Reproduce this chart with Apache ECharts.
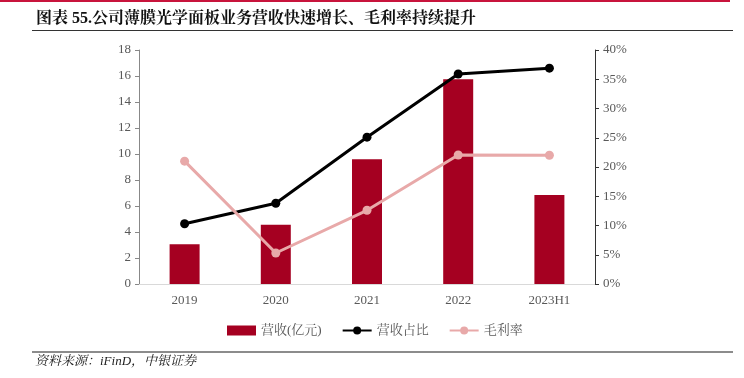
<!DOCTYPE html>
<html><head><meta charset="utf-8">
<script src="https://cdn.jsdelivr.net/npm/echarts@6/dist/echarts.min.js"></script>
<style>html,body{margin:0;padding:0;background:#fff}#c{width:744px;height:378px}</style>
</head><body><div id="c"></div>
<script>
const categories = ['2019','2020','2021','2022','2023H1'];
const revenue = [3.05, 4.55, 9.6, 15.75, 6.85];
const revenueShare = [10.3, 13.8, 25.1, 35.9, 36.9];
const grossMargin = [21.0, 5.3, 12.6, 22.05, 22.0];
const leftTicks = [0, 18, 2];
const rightTicks = [0, 40, 5];

const serif = '"Liberation Serif","Times New Roman","Noto Serif CJK SC","Noto Sans CJK SC",serif';
const chart = echarts.init(document.getElementById('c'));
chart.setOption({
  animation: false,
  title: {
    text: '图表 55.公司薄膜光学面板业务营收快速增长、毛利率持续提升',
    left: 31, top: 6,
    textStyle: { fontFamily: serif, fontSize: 16, fontWeight: 'bold', color: '#111' }
  },
  graphic: [
    { type: 'line', shape: { x1: 0, y1: 1, x2: 730, y2: 1 }, style: { stroke: '#c8143c', lineWidth: 2 } },
    { type: 'line', shape: { x1: 32, y1: 30.5, x2: 733, y2: 30.5 }, style: { stroke: '#333', lineWidth: 1.2 } },
    { type: 'line', shape: { x1: 32, y1: 352, x2: 733, y2: 352 }, style: { stroke: '#666', lineWidth: 1.5 } },
    { type: 'text', left: 35, top: 355, style: { text: '资料来源：iFinD，中银证券', font: 'italic 13px ' + serif, fill: '#222' } }
  ],
  legend: {
    left: 222, top: 319,
    itemWidth: 29, itemHeight: 10, itemGap: 20,
    textStyle: { fontFamily: serif, fontSize: 13, color: '#595959' },
    data: [
      { name: '营收(亿元)', icon: 'rect' },
      { name: '营收占比' },
      { name: '毛利率' }
    ]
  },
  grid: { left: 139, right: 149, top: 50, bottom: 94 },
  xAxis: {
    type: 'category', data: categories,
    axisLine: { lineStyle: { color: '#d9d9d9', width: 1 } },
    axisTick: { show: false },
    axisLabel: { fontFamily: serif, fontSize: 13, color: '#595959', margin: 10 }
  },
  yAxis: [
    {
      type: 'value', min: leftTicks[0], max: leftTicks[1], interval: leftTicks[2],
      axisLine: { show: true, lineStyle: { color: '#888' } },
      axisTick: { show: true, length: 4, lineStyle: { color: '#888' } },
      splitLine: { show: false },
      axisLabel: { fontFamily: serif, fontSize: 13, color: '#595959', margin: 8 }
    },
    {
      type: 'value', min: rightTicks[0], max: rightTicks[1], interval: rightTicks[2],
      position: 'right',
      axisLine: { show: true, lineStyle: { color: '#333' } },
      axisTick: { show: true, length: 4, lineStyle: { color: '#333' } },
      splitLine: { show: false },
      axisLabel: { fontFamily: serif, fontSize: 13, color: '#595959', margin: 8, formatter: '{value}%' }
    }
  ],
  series: [
    { name: '营收(亿元)', type: 'bar', data: revenue, barWidth: 30, itemStyle: { color: '#a50021' } },
    { name: '营收占比', type: 'line', yAxisIndex: 1, data: revenueShare, symbol: 'circle', symbolSize: 9,
      lineStyle: { color: '#000', width: 3 }, itemStyle: { color: '#000' } },
    { name: '毛利率', type: 'line', yAxisIndex: 1, data: grossMargin, symbol: 'circle', symbolSize: 9,
      lineStyle: { color: '#e8a9a9', width: 3 }, itemStyle: { color: '#e8a9a9' } }
  ]
});
</script></body></html>
